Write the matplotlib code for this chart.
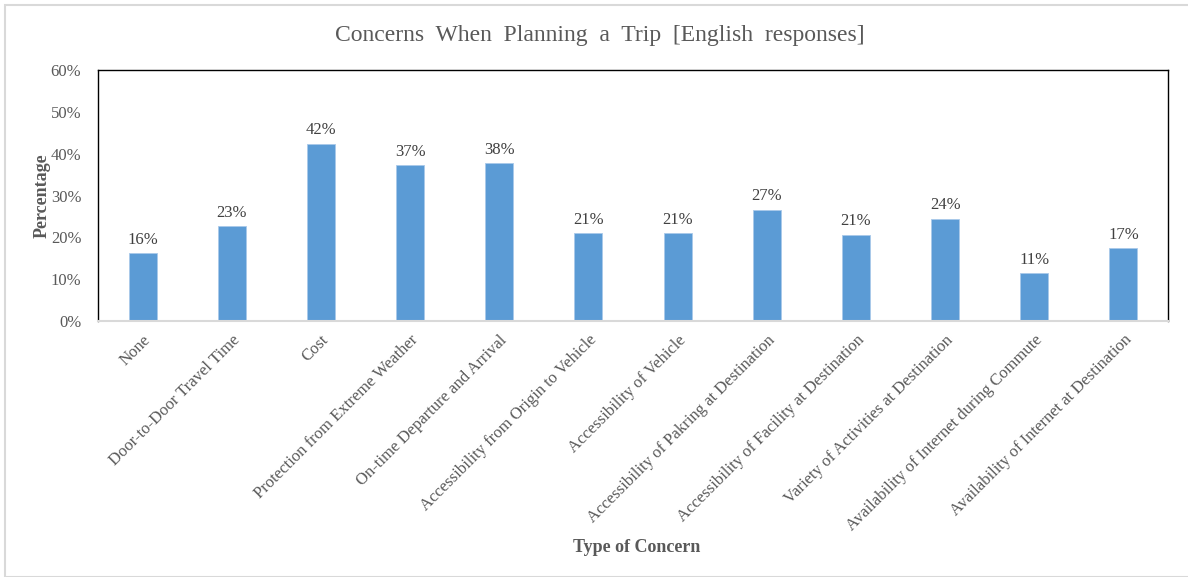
import numpy as np
import matplotlib.pyplot as plt
from matplotlib.patches import Rectangle
from matplotlib.ticker import PercentFormatter

# Survey results (share of respondents, %)
concerns = [
    "None",
    "Door-to-Door Travel Time",
    "Cost",
    "Protection from Extreme Weather",
    "On-time Departure and Arrival",
    "Accessibility from Origin to Vehicle",
    "Accessibility of Vehicle",
    "Accessibility of Pakring at Destination",
    "Accessibility of Facility at Destination",
    "Variety of Activities at Destination",
    "Availability of Internet during Commute",
    "Availability of Internet at Destination",
]
shares = [16.2, 22.7, 42.4, 37.3, 37.7, 21.0, 21.0, 26.6, 20.6, 24.4, 11.4, 17.4]

plt.rcParams['font.family'] = ['Liberation Serif', 'DejaVu Serif']
grey = '#595959'
bar_color = '#5B9BD5'

fig = plt.figure(figsize=(11.88, 5.77), dpi=100)
ax = fig.add_axes([98 / 1188, 1 - 321 / 577, 1070 / 1188, 251 / 577])

x = np.arange(len(concerns))
bars = ax.bar(x, shares, width=0.315, color=bar_color, edgecolor='#A9C9EA', linewidth=0.6)

for b, v in zip(bars, shares):
    ax.text(b.get_x() + b.get_width() / 2, v + 1.3, f"{v:.0f}%",
            ha='center', va='bottom', fontsize=12, color='#404040')

ax.set_xlim(-0.5, len(concerns) - 0.5)
ax.set_ylim(0, 60)
ax.set_yticks(np.arange(0, 61, 10))
ax.yaxis.set_major_formatter(PercentFormatter(decimals=0))
ax.set_xticks(x)
ax.set_xticklabels(concerns, rotation=45, ha='right', rotation_mode='anchor',
                   fontsize=12, color=grey)
ax.tick_params(axis='x', length=0, pad=8)
ax.tick_params(axis='y', length=0, pad=12, labelsize=12, labelcolor=grey)

for side in ['left', 'top', 'right']:
    ax.spines[side].set_color('black')
    ax.spines[side].set_linewidth(1.0)
ax.spines['bottom'].set_color('#D9D9D9')
ax.spines['bottom'].set_linewidth(1.5)

ax.set_ylabel("Percentage", fontsize=13, fontweight='bold', color=grey, labelpad=0)
fig.text(637 / 1188, 1 - 548 / 577, "Type of Concern", ha='center', va='center',
         fontsize=13, fontweight='bold', color=grey)
fig.text(600 / 1188, 1 - 36 / 577, "Concerns  When  Planning  a  Trip  [English  responses]",
         ha='center', va='center', fontsize=17, color=grey)

# light frame around the whole chart
fig.patches.append(Rectangle((5 / 1188, 0.5 / 577), 1.0, 1 - 5.5 / 577,
                             transform=fig.transFigure, fill=False,
                             edgecolor='#D9D9D9', linewidth=1.5))

fig.savefig("out.png", dpi=100)
